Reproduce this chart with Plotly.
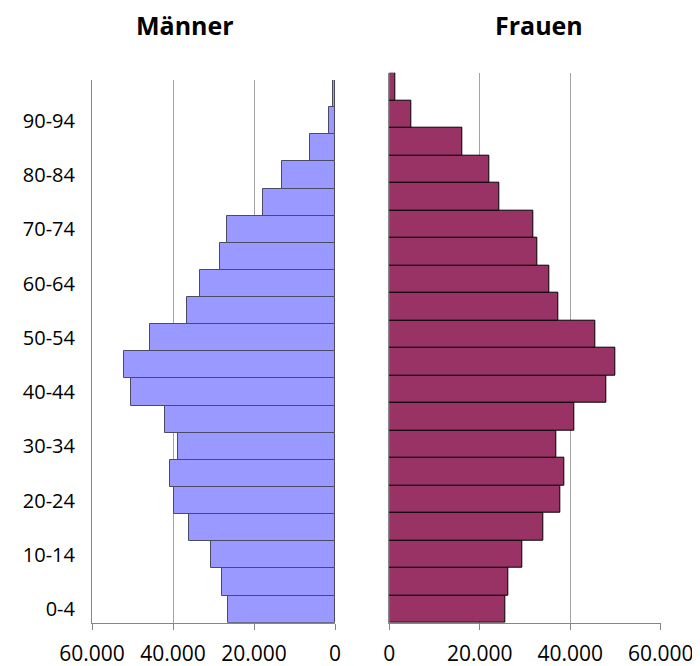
import plotly.graph_objects as go

age_groups = ["0-4", "5-9", "10-14", "15-19", "20-24", "25-29", "30-34", "35-39",
              "40-44", "45-49", "50-54", "55-59", "60-64", "65-69", "70-74",
              "75-79", "80-84", "85-89", "90-94", "95+"]
men = [26300, 27800, 30700, 36100, 39700, 40800, 38800, 41900, 50400, 52100,
       45600, 36500, 33300, 28500, 26700, 17800, 13000, 6100, 1600, 400]
women = [25700, 26300, 29300, 34000, 37700, 38600, 37000, 40900, 48000, 50000,
         45500, 37300, 35400, 32800, 31800, 24300, 22000, 16200, 4800, 1400]
x_ticks = [0, 20000, 40000, 60000]
x_tick_labels = ["0", "20.000", "40.000", "60.000"]
y_tick_labels = age_groups[::2]

FONT = "Open Sans"
GRID = "#A3A3A3"
AXIS = "#868686"

fig = go.Figure()
fig.add_trace(go.Bar(x=men, y=age_groups, orientation="h", xaxis="x", yaxis="y",
                     marker=dict(color="#9999FF", line=dict(color="#4A4A62", width=1)),
                     showlegend=False))
fig.add_trace(go.Bar(x=women, y=age_groups, orientation="h", xaxis="x2", yaxis="y2",
                     marker=dict(color="#993366", line=dict(color="#000000", width=1)),
                     showlegend=False))

H = 666.0
W = 700.0
OFF = 8.0  # page body margin


def px_x(p):
    return (p - OFF) / W


def px_y(p):
    return 1 - (p - OFF) / H


fig.update_layout(
    width=700, height=666,
    margin=dict(l=0, r=0, t=0, b=0),
    plot_bgcolor="white", paper_bgcolor="white",
    bargap=0,
    font=dict(family=FONT, color="#000000"),
    xaxis=dict(domain=[px_x(92), px_x(335)], range=[60000, 0], anchor="y",
               tickvals=x_ticks, ticktext=x_tick_labels,
               showgrid=True, gridcolor=GRID, gridwidth=1, zeroline=False,
               showline=True, linecolor=AXIS, linewidth=1,
               ticks="outside", ticklen=6, tickcolor=AXIS,
               tickfont=dict(size=21, family=FONT), ticklabelstandoff=6,
               automargin=False, fixedrange=True),
    yaxis=dict(domain=[px_y(622.7), px_y(80)], anchor="x",
               type="category", categoryorder="array", categoryarray=age_groups,
               range=[-0.5, len(age_groups) - 0.5],
               tickvals=y_tick_labels, ticktext=y_tick_labels,
               showgrid=False, zeroline=False,
               showline=True, linecolor=AXIS, linewidth=1,
               ticks="", tickfont=dict(size=20, family=FONT), ticklabelstandoff=12,
               automargin=False, fixedrange=True),
    xaxis2=dict(domain=[px_x(389.3), px_x(660.7)], range=[0, 60000], anchor="y2",
                tickvals=x_ticks, ticktext=x_tick_labels,
                showgrid=True, gridcolor=GRID, gridwidth=1, zeroline=False,
                showline=True, linecolor=AXIS, linewidth=1,
                ticks="outside", ticklen=6, tickcolor=AXIS,
                tickfont=dict(size=21, family=FONT), ticklabelstandoff=6,
                automargin=False, fixedrange=True),
    yaxis2=dict(domain=[px_y(622.7), px_y(72.7)], anchor="x2",
                type="category", categoryorder="array", categoryarray=age_groups,
                range=[-0.5, len(age_groups) - 0.5],
                showticklabels=False, showgrid=False, zeroline=False,
                showline=True, linecolor=AXIS, linewidth=1, ticks="",
                automargin=False, fixedrange=True),
    annotations=[
        dict(text="<b>Männer</b>", x=px_x(185), y=px_y(25.5), xref="paper", yref="paper",
             xanchor="center", yanchor="middle", showarrow=False,
             font=dict(size=25, family=FONT, color="#000000")),
        dict(text="<b>Frauen</b>", x=px_x(538.5), y=px_y(25.5), xref="paper", yref="paper",
             xanchor="center", yanchor="middle", showarrow=False,
             font=dict(size=25, family=FONT, color="#000000")),
    ],
)

fig.write_html("out.html")
